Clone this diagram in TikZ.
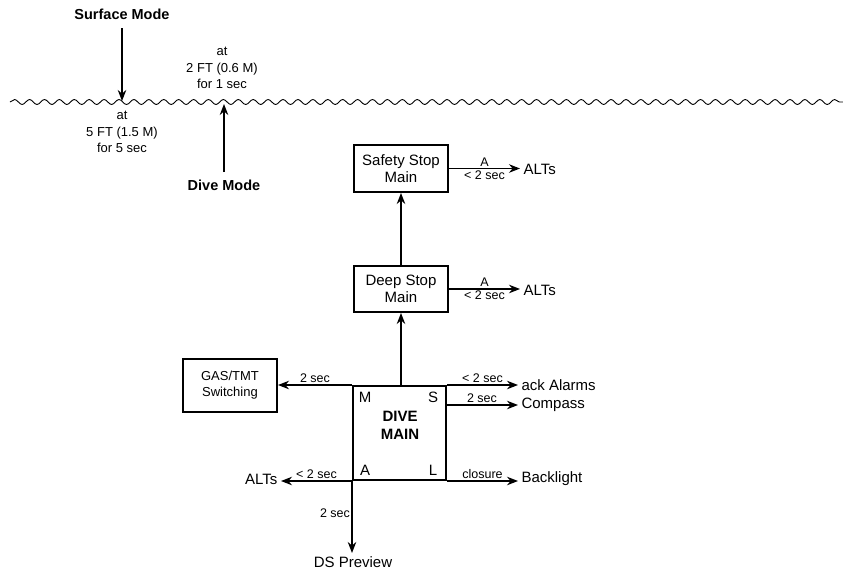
\documentclass[tikz,border=0pt]{standalone}
\usepackage{fontspec}
\setmainfont{Liberation Sans}
\usetikzlibrary{arrows.meta,decorations.pathmorphing}
\begin{document}
\begin{tikzpicture}[x=1pt,y=-1pt,
  box/.style={draw,line width=2pt,inner sep=0pt,align=center},
  arr/.style={line width=1.2pt,-{Stealth[length=11pt,width=8.5pt]}},
  lab/.style={font=\fontsize{15}{17.5}\selectfont},
  sm/.style={font=\fontsize{12.5}{14}\selectfont,inner sep=1.5pt},
  note/.style={font=\fontsize{13}{16.5}\selectfont,align=center},
  bold/.style={font=\fontsize{14.5}{17}\selectfont\bfseries}]
\useasboundingbox (0,0) rectangle (843,574);
% water surface
\coordinate (wl) at (10,102);
\coordinate (wr) at (845,102);
\draw[line width=0.9pt,decorate,decoration={snake,segment length=14.91pt,amplitude=2.5pt}] (wl) -- (wr);
% surface / dive mode
\node[bold] (surf) at (122,14) {Surface Mode};
\coordinate (sw) at (122,101);
\draw[arr] (122,28) -- (sw);
\node[note] (n1) at (222,68) {at\\2 FT (0.6 M)\\for 1 sec};
\node[note] (n2) at (122,132) {at\\5 FT (1.5 M)\\for 5 sec};
\node[bold] (dive) at (224,185) {Dive Mode};
\coordinate (dw) at (224,104);
\draw[arr] (224,172) -- (dw);
% boxes
\node[box,lab,minimum width=94pt,minimum height=47pt] (ss) at (401,168.5) {Safety Stop\\Main};
\node[box,lab,minimum width=94pt,minimum height=46pt] (ds) at (401,289) {Deep Stop\\Main};
\node[box,minimum width=93pt,minimum height=94pt] (dm) at (399.5,433) {};
\node[font=\fontsize{15}{18}\selectfont\bfseries,align=center] (dmt) at (400,425) {DIVE\\MAIN};
\node[box,font=\fontsize{13}{16}\selectfont,minimum width=94pt,minimum height=53pt] (gas) at (230,385.5) {GAS/TMT\\Switching};
% corner letters
\node[lab] (km) at (365,397) {M};
\node[lab] (ks) at (433,397) {S};
\node[lab] (ka) at (365,470) {A};
\node[lab] (kl) at (433,470) {L};
% vertical arrows
\draw[arr] (ds.north) -- (ss.south);
\draw[arr] (dm.north -| ds) -- (ds.south);
% right arrows from stops
\node[lab,anchor=west] (alt1) at (520,169) {ALTs};
\draw[arr] (ss.east) -- node[sm,above]{A} node[sm,below]{< 2 sec} (alt1.west |- ss.east);
\node[lab,anchor=west] (alt2) at (520,290) {ALTs};
\draw[arr] (ds.east) -- node[sm,above]{A} node[sm,below]{< 2 sec} (alt2.west |- ds.east);
% dive main outputs
\node[lab,anchor=west] (ack) at (518,385) {ack Alarms};
\node[lab,anchor=west] (comp) at (518,405) {Compass};
\node[lab,anchor=west] (back) at (518,479) {Backlight};
\node[lab,anchor=east] (alt3) at (281,479) {ALTs};
\node[lab] (dsp) at (353,562) {DS Preview};
\coordinate (ne) at (dm.north east);
\coordinate (se) at (dm.south east);
\coordinate (nw) at (dm.north west);
\coordinate (sw2) at (dm.south west);
\coordinate (ce) at (446,405);
\draw[arr] (ne) -- node[sm,above]{< 2 sec} (ack.west |- ne);
\draw[arr] (ce) -- node[sm,above]{2 sec} (comp.west |- ce);
\draw[arr] (se) -- node[sm,above]{closure} (back.west |- se);
\draw[arr] (nw) -- node[sm,above]{2 sec} (gas.east |- nw);
\draw[arr] (sw2) -- node[sm,above]{< 2 sec} (alt3.east |- sw2);
\draw[arr] (sw2) -- node[sm,left,pos=0.45]{2 sec} (dsp.north -| sw2);
\end{tikzpicture}
\end{document}
